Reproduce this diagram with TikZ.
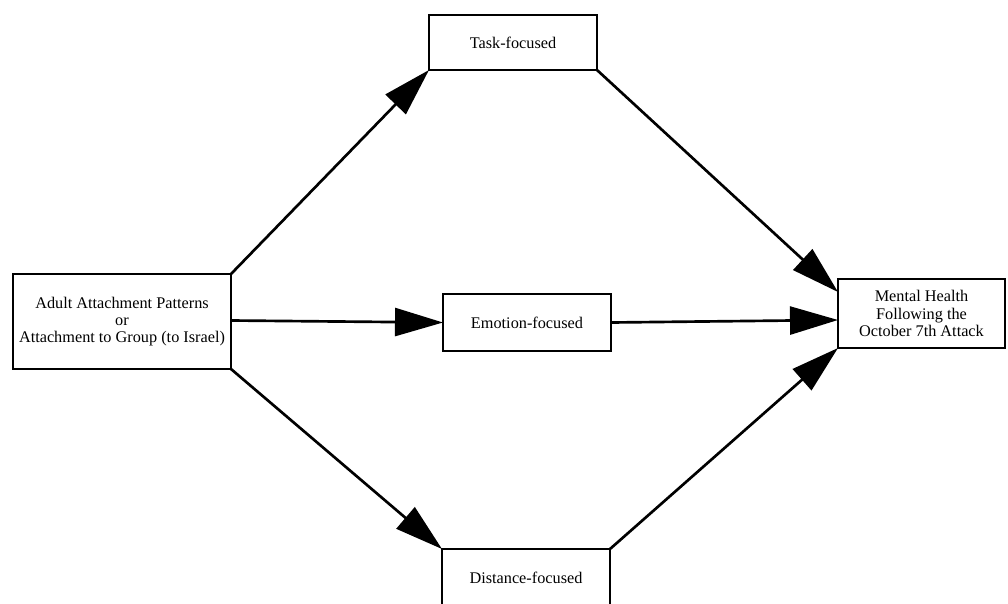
\documentclass[tikz,border=0pt]{standalone}
\usepackage{fontspec}
\setmainfont{Liberation Serif}
\usetikzlibrary{arrows.meta}
\begin{document}
\begin{tikzpicture}[x=0.75pt,y=-0.75pt,
  box/.style={draw,line width=2pt,fill=white,inner sep=0pt,outer sep=0pt,align=center,font=\fontsize{12.2}{12.9}\selectfont},
  link/.style={line width=2pt,-{Triangle[length=36pt,width=21pt]}}]
\useasboundingbox (0,0) rectangle (1008,604);
\node[box,minimum width=218*0.75pt,minimum height=95*0.75pt] (L) at (122,321.5) {Adult Attachment Patterns\\or\\Attachment to Group (to Israel)};
\node[box,minimum width=168*0.75pt,minimum height=55*0.75pt] (T) at (513,42.5) {Task-focused};
\node[box,minimum width=168*0.75pt,minimum height=57*0.75pt] (E) at (527,322.5) {Emotion-focused};
\node[box,minimum width=168*0.75pt,minimum height=58*0.75pt] (D) at (526,578) {Distance-focused};
\node[box,minimum width=167*0.75pt,minimum height=69*0.75pt] (M) at (921.5,313.5) {Mental Health\\Following the\\October 7th Attack};
\coordinate (m1) at ([yshift=-13*0.75pt]M.north west);
\coordinate (m2) at ([yshift=-41*0.75pt]M.north west);
\coordinate (e1) at ([yshift=1*0.75pt]L.east);
\draw[link] (L.north east) -- (T.south west);
\draw[link] (e1) -- (E.west);
\draw[link] (L.south east) -- (D.north west);
\draw[link] (T.south east) -- (m1);
\draw[link] (E.east) -- (m2);
\draw[link] (D.north east) -- (M.south west);
\end{tikzpicture}
\end{document}
